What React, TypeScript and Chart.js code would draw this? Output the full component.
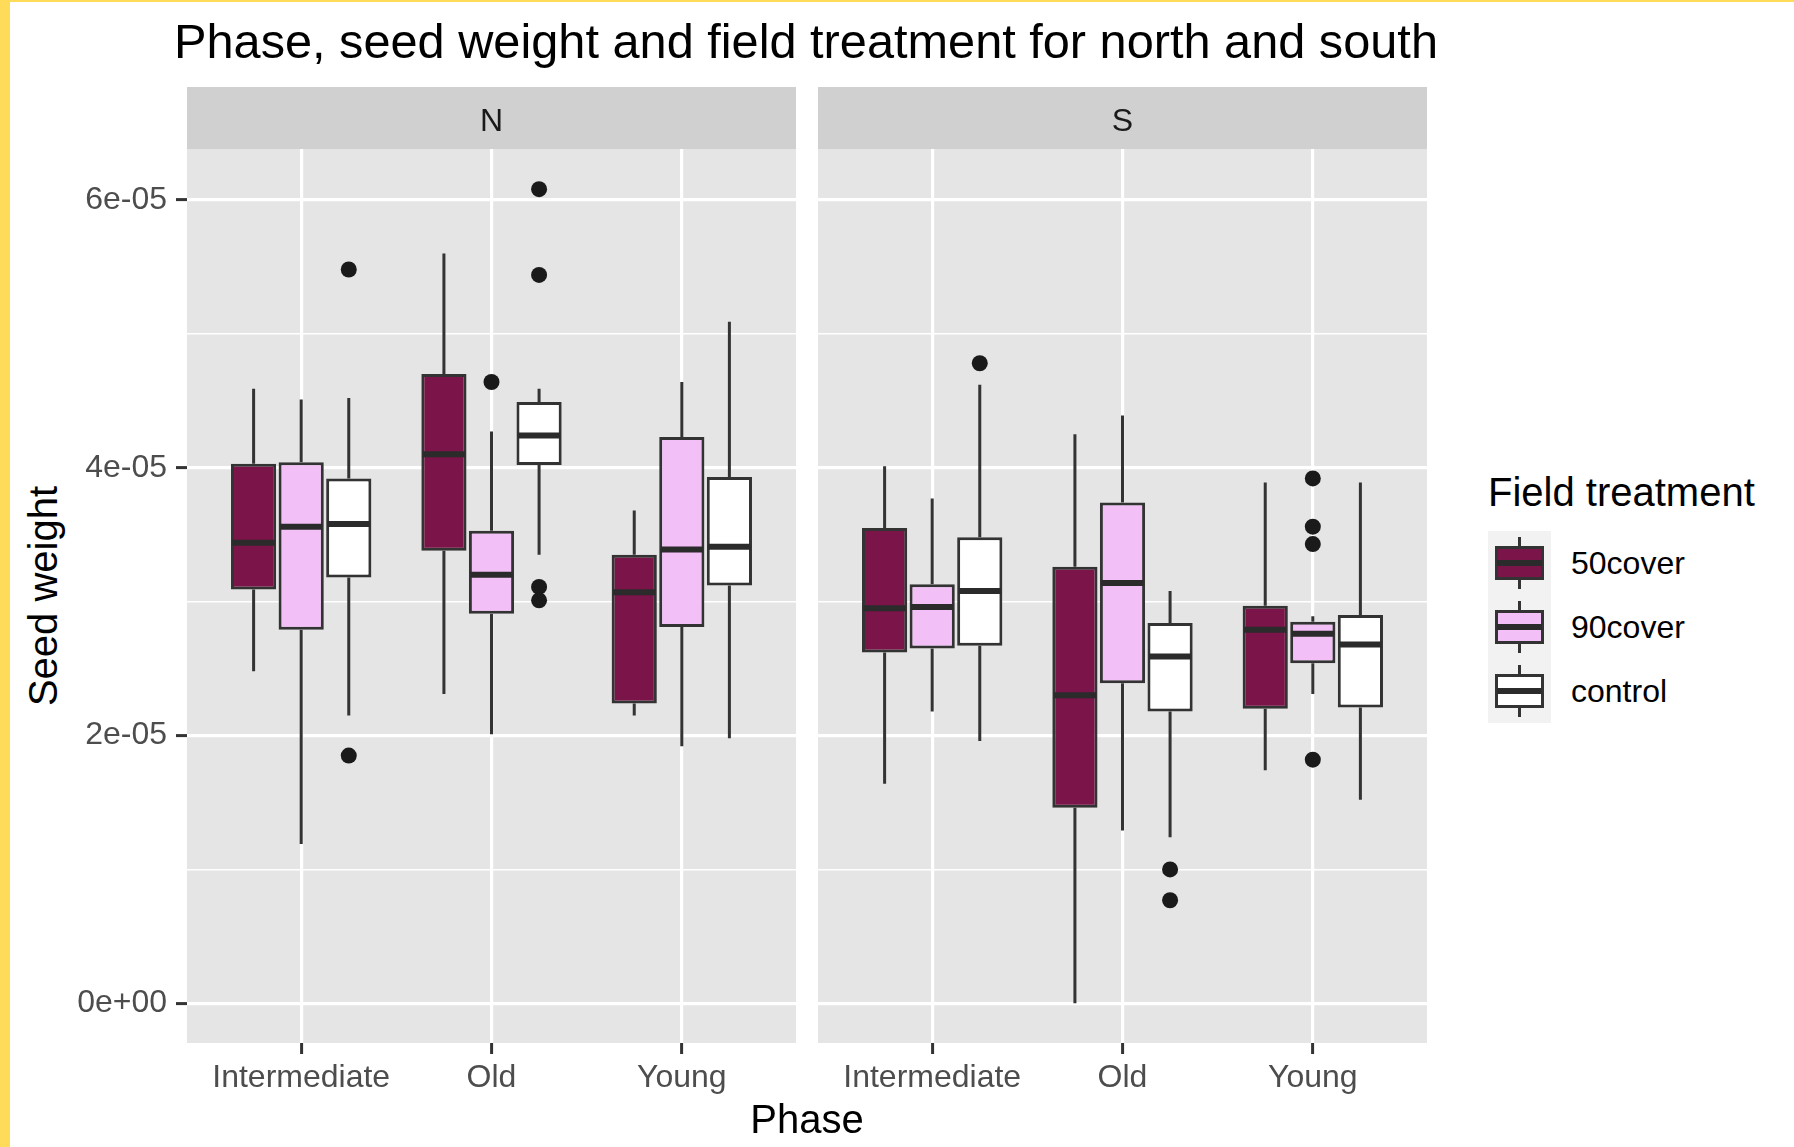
import React, { useEffect, useRef } from "react";
import { Chart, registerables } from "chart.js";

Chart.register(...registerables);

const FONT = "'Liberation Sans', Arial, Helvetica, sans-serif";

const phases = ["Intermediate", "Old", "Young"];
const treatments = ["50cover", "90cover", "control"];
const treatmentFills = ["#7B1449", "#F2BFF7", "#FFFFFF"];
const yTickValues = [0, 1e-5, 2e-5, 3e-5, 4e-5, 5e-5, 6e-5];
const yTickLabels = ["0e+00", "", "2e-05", "", "4e-05", "", "6e-05"];

// per phase: [lower whisker, Q1, median, Q3, upper whisker]
const north50cover = [
  [2.48e-5, 3.09e-5, 3.44e-5, 4.03e-5, 4.59e-5],
  [2.31e-5, 3.38e-5, 4.1e-5, 4.7e-5, 5.6e-5],
  [2.15e-5, 2.24e-5, 3.07e-5, 3.35e-5, 3.68e-5],
];
const north90cover = [
  [1.19e-5, 2.79e-5, 3.56e-5, 4.04e-5, 4.51e-5],
  [2.01e-5, 2.91e-5, 3.2e-5, 3.53e-5, 4.27e-5],
  [1.92e-5, 2.81e-5, 3.39e-5, 4.23e-5, 4.64e-5],
];
const northControl = [
  [2.15e-5, 3.18e-5, 3.58e-5, 3.92e-5, 4.52e-5],
  [3.35e-5, 4.02e-5, 4.24e-5, 4.49e-5, 4.59e-5],
  [1.98e-5, 3.12e-5, 3.41e-5, 3.93e-5, 5.09e-5],
];
const south50cover = [
  [1.64e-5, 2.62e-5, 2.95e-5, 3.55e-5, 4.01e-5],
  [0.0, 1.46e-5, 2.3e-5, 3.26e-5, 4.25e-5],
  [1.74e-5, 2.2e-5, 2.79e-5, 2.97e-5, 3.89e-5],
];
const south90cover = [
  [2.18e-5, 2.65e-5, 2.96e-5, 3.13e-5, 3.77e-5],
  [1.29e-5, 2.39e-5, 3.14e-5, 3.74e-5, 4.39e-5],
  [2.31e-5, 2.54e-5, 2.76e-5, 2.85e-5, 2.89e-5],
];
const southControl = [
  [1.96e-5, 2.67e-5, 3.08e-5, 3.48e-5, 4.62e-5],
  [1.24e-5, 2.18e-5, 2.59e-5, 2.84e-5, 3.08e-5],
  [1.52e-5, 2.21e-5, 2.68e-5, 2.9e-5, 3.89e-5],
];

// outliers per phase
const north50coverOut: number[][] = [[], [], []];
const north90coverOut: number[][] = [[], [4.64e-5], []];
const northControlOut: number[][] = [[5.48e-5, 1.85e-5], [6.08e-5, 5.44e-5, 3.11e-5, 3.01e-5], []];
const south50coverOut: number[][] = [[], [], []];
const south90coverOut: number[][] = [[], [], [3.92e-5, 3.56e-5, 3.43e-5, 1.82e-5]];
const southControlOut: number[][] = [[4.78e-5], [1.0e-5, 0.77e-5], []];

const Y_MIN = -0.296e-5;
const Y_MAX = 6.38e-5;
const STRIP_H = 62;
const DODGE = 0.25;

function facetPlugin(stats: number[][][], strip: string) {
  return {
    id: "facet_" + strip,
    beforeDraw(chart: any) {
      const { ctx, chartArea: a } = chart;
      ctx.save();
      ctx.fillStyle = "#E5E5E5";
      ctx.fillRect(a.left, a.top, a.right - a.left, a.bottom - a.top);
      ctx.fillStyle = "#D0D0D0";
      ctx.fillRect(a.left, a.top - STRIP_H, a.right - a.left, STRIP_H);
      ctx.fillStyle = "#1A1A1A";
      ctx.font = `32px ${FONT}`;
      ctx.textAlign = "center";
      ctx.textBaseline = "middle";
      ctx.fillText(strip, (a.left + a.right) / 2, a.top - STRIP_H / 2 + 4);
      ctx.restore();
    },
    beforeDatasetsDraw(chart: any) {
      const { ctx } = chart;
      const ys = chart.scales.y;
      ctx.save();
      ctx.strokeStyle = "#333333";
      ctx.lineWidth = 3;
      treatments.forEach((_, k) => {
        const meta = chart.getDatasetMeta(k);
        meta.data.forEach((el: any, i: number) => {
          const s = stats[k][i];
          ctx.beginPath();
          ctx.moveTo(el.x, ys.getPixelForValue(s[3]));
          ctx.lineTo(el.x, ys.getPixelForValue(s[4]));
          ctx.moveTo(el.x, ys.getPixelForValue(s[1]));
          ctx.lineTo(el.x, ys.getPixelForValue(s[0]));
          ctx.stroke();
        });
      });
      ctx.restore();
    },
    afterDatasetsDraw(chart: any) {
      const { ctx } = chart;
      const ys = chart.scales.y;
      ctx.save();
      ctx.strokeStyle = "#2B2B2B";
      ctx.lineWidth = 6;
      treatments.forEach((_, k) => {
        const meta = chart.getDatasetMeta(k);
        meta.data.forEach((el: any, i: number) => {
          const y = ys.getPixelForValue(stats[k][i][2]);
          const half = el.width / 2 - 1.5;
          ctx.beginPath();
          ctx.moveTo(el.x - half, y);
          ctx.lineTo(el.x + half, y);
          ctx.stroke();
        });
      });
      ctx.restore();
    },
  };
}

function buildConfig(stats: number[][][], outliers: number[][][], strip: string, showY: boolean, yWidth: number): any {
  const bars = treatments.map((t, k) => ({
    type: "bar",
    label: t,
    data: phases.map((_, i) => ({ x: i + 1, y: [stats[k][i][1], stats[k][i][3]] })),
    backgroundColor: treatmentFills[k],
    borderColor: "#333333",
    borderWidth: 3,
    borderSkipped: false,
    categoryPercentage: 0.75,
    barPercentage: 0.95,
  }));
  const dots = treatments.map((t, k) => ({
    type: "scatter",
    label: t + " outliers",
    data: phases.flatMap((_, i) =>
      outliers[k][i].map((v) => ({ x: i + 1 + (k - 1) * DODGE, y: v }))
    ),
    pointRadius: 8,
    pointBackgroundColor: "#1A1A1A",
    pointBorderWidth: 0,
    showLine: false,
  }));
  return {
    type: "bar",
    data: { datasets: [...bars, ...dots] },
    options: {
      animation: false,
      responsive: true,
      maintainAspectRatio: false,
      events: [],
      layout: { autoPadding: false, padding: { top: STRIP_H, left: 0, right: 0, bottom: 0 } },
      plugins: { legend: { display: false }, tooltip: { enabled: false } },
      scales: {
        x: {
          type: "linear",
          min: 0.4,
          max: 3.6,
          offset: false,
          afterBuildTicks: (s: any) => {
            s.ticks = phases.map((_, i) => ({ value: i + 1 }));
          },
          afterFit: (s: any) => {
            s.height = 104;
          },
          ticks: {
            callback: (_v: any, i: number) => phases[i],
            color: "#4D4D4D",
            font: { family: FONT, size: 32 },
            padding: 4.5,
            maxRotation: 0,
            autoSkip: false,
          },
          grid: {
            color: "#FFFFFF",
            lineWidth: 3.2,
            offset: false,
            tickColor: "#333333",
            tickLength: 11,
            tickWidth: 3,
          },
          border: { display: false },
        },
        y: {
          type: "linear",
          min: Y_MIN,
          max: Y_MAX,
          afterBuildTicks: (s: any) => {
            s.ticks = yTickValues.map((v) => ({ value: v }));
          },
          afterFit: (s: any) => {
            s.width = yWidth;
          },
          ticks: {
            display: showY,
            callback: (_v: any, i: number) => yTickLabels[i],
            color: "#4D4D4D",
            font: { family: FONT, size: 32 },
            padding: 9,
            autoSkip: false,
          },
          grid: {
            color: "#FFFFFF",
            lineWidth: (c: any) => (c.index % 2 === 0 ? 3.2 : 1.6),
            drawTicks: showY,
            tickColor: (c: any) => (c.index % 2 === 0 ? "#333333" : "rgba(0,0,0,0)"),
            tickLength: 11,
            tickWidth: 3,
          },
          border: { display: false },
        },
      },
    },
    plugins: [facetPlugin(stats, strip)],
  };
}

function Panel(props: {
  stats: number[][][];
  outliers: number[][][];
  strip: string;
  showY: boolean;
  yWidth: number;
  style: React.CSSProperties;
}) {
  const ref = useRef<HTMLCanvasElement | null>(null);
  useEffect(() => {
    if (!ref.current) return;
    const chart = new Chart(
      ref.current,
      buildConfig(props.stats, props.outliers, props.strip, props.showY, props.yWidth)
    );
    return () => chart.destroy();
  }, []);
  return (
    <div style={{ position: "absolute", ...props.style }}>
      <canvas ref={ref} />
    </div>
  );
}

function LegendKey({ fill }: { fill: string }) {
  return (
    <div style={{ position: "relative", width: 63, height: 64, background: "#F2F2F2" }}>
      <div style={{ position: "absolute", left: 30, top: 6, width: 3, height: 11, background: "#333333" }} />
      <div style={{ position: "absolute", left: 30, top: 47, width: 3, height: 11, background: "#333333" }} />
      <div
        style={{
          position: "absolute",
          left: 7,
          top: 15,
          width: 43,
          height: 28,
          background: fill,
          border: "3px solid #333333",
        }}
      />
      <div style={{ position: "absolute", left: 9, top: 28.5, width: 45, height: 6, background: "#2B2B2B" }} />
    </div>
  );
}

export default function App() {
  return (
    <div
      style={{
        position: "fixed",
        left: 0,
        top: 0,
        width: 1794,
        height: 1147,
        background: "#FFFFFF",
        overflow: "hidden",
        fontFamily: FONT,
      }}
    >
      <div style={{ position: "absolute", left: 0, top: 0, width: 10, height: 1147, background: "#FEDC5A" }} />
      <div style={{ position: "absolute", left: 0, top: 0, width: 1794, height: 2, background: "#FEDC5A" }} />
      <div
        style={{
          position: "absolute",
          left: 174,
          top: 17,
          fontSize: 48.7,
          lineHeight: "48px",
          color: "#000000",
          whiteSpace: "nowrap",
        }}
      >
        Phase, seed weight and field treatment for north and south
      </div>
      <div
        style={{
          position: "absolute",
          left: 43,
          top: 596,
          fontSize: 40,
          lineHeight: "40px",
          whiteSpace: "nowrap",
          transform: "translate(-50%, -50%) rotate(-90deg)",
          color: "#000000",
        }}
      >
        Seed weight
      </div>
      <Panel
        stats={[north50cover, north90cover, northControl]}
        outliers={[north50coverOut, north90coverOut, northControlOut]}
        strip="N"
        showY={true}
        yWidth={167}
        style={{ left: 20, top: 87, width: 776, height: 1060 }}
      />
      <Panel
        stats={[south50cover, south90cover, southControl]}
        outliers={[south50coverOut, south90coverOut, southControlOut]}
        strip="S"
        showY={false}
        yWidth={0}
        style={{ left: 818, top: 87, width: 609, height: 1060 }}
      />
      <div
        style={{
          position: "absolute",
          left: 807,
          top: 1099,
          fontSize: 40,
          lineHeight: "40px",
          whiteSpace: "nowrap",
          transform: "translateX(-50%)",
          color: "#000000",
        }}
      >
        Phase
      </div>
      <div
        style={{
          position: "absolute",
          left: 1488,
          top: 472,
          fontSize: 40,
          lineHeight: "40px",
          whiteSpace: "nowrap",
          color: "#000000",
        }}
      >
        Field treatment
      </div>
      <div style={{ position: "absolute", left: 1488, top: 531 }}>
        {treatments.map((t, k) => (
          <div key={t} style={{ display: "flex", alignItems: "center", height: 64 }}>
            <LegendKey fill={treatmentFills[k]} />
            <div style={{ marginLeft: 20, fontSize: 32, lineHeight: "32px", color: "#000000", whiteSpace: "nowrap" }}>
              {t}
            </div>
          </div>
        ))}
      </div>
    </div>
  );
}
